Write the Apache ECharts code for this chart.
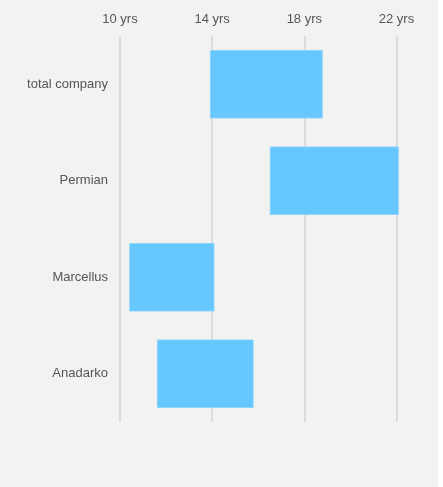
<!DOCTYPE html>
<html>
<head>
<meta charset="utf-8">
<script src="https://cdn.jsdelivr.net/npm/echarts@6/dist/echarts.min.js"></script>
<style>
  html, body { margin: 0; padding: 0; background: #ffffff; }
  #chart { width: 438px; height: 487px; background: #f2f3f0; }
</style>
</head>
<body>
<div id="chart"></div>
<script>
// 区域名称
const regions = ['total company', 'Permian', 'Marcellus', 'Anadarko'];
// 每个区域的起止年限
const rangeStart = [13.9, 16.5, 10.4, 11.6];
const rangeEnd = [18.8, 22.1, 14.1, 15.8];
// 刻度
const axisMin = 10;
const axisMax = 22;
const axisStep = 4;

// 透明底座 + 可见区间
const spans = rangeEnd.map((v, i) => +(v - rangeStart[i]).toFixed(2));

const chart = echarts.init(document.getElementById('chart'));
chart.setOption({
  animation: false,
  grid: {
    left: 120,
    top: 36,
    width: 276.5,
    height: 386
  },
  xAxis: {
    type: 'value',
    position: 'top',
    min: axisMin,
    max: axisMax,
    interval: axisStep,
    axisLine: { show: false },
    axisTick: { show: false },
    axisLabel: {
      formatter: '{value} yrs',
      color: '#555',
      fontSize: 13,
      fontFamily: 'Arial, "Liberation Sans", sans-serif',
      margin: 10
    },
    splitLine: {
      lineStyle: { color: '#dcdcdc', width: 2 }
    }
  },
  yAxis: {
    type: 'category',
    inverse: true,
    data: regions,
    axisLine: { show: false },
    axisTick: { show: false },
    axisLabel: {
      color: '#555',
      fontSize: 13,
      fontFamily: 'Arial, "Liberation Sans", sans-serif',
      margin: 12
    }
  },
  series: [
    {
      type: 'bar',
      stack: 'range',
      data: rangeStart,
      barCategoryGap: '29%',
      itemStyle: { color: 'transparent' },
      silent: true
    },
    {
      type: 'bar',
      stack: 'range',
      data: spans,
      clip: false,
      barCategoryGap: '29%',
      itemStyle: { color: '#66c6fe', borderColor: '#8dd4fe', borderWidth: 1 }
    }
  ]
});
</script>
</body>
</html>
